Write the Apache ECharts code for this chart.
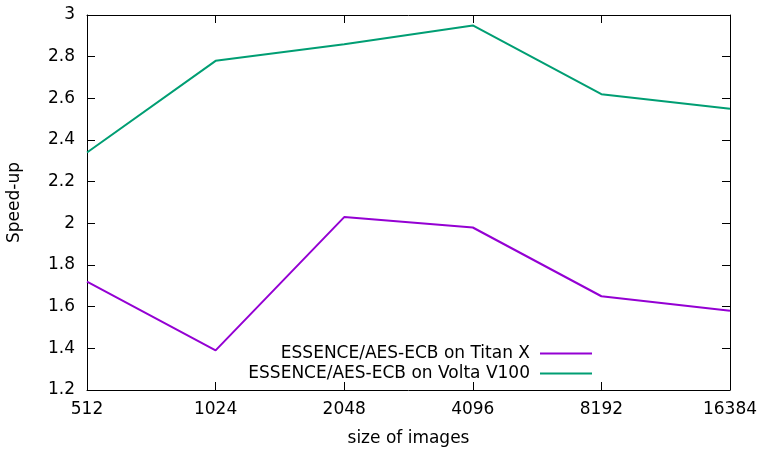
<!DOCTYPE html>
<html>
<head>
    <meta charset="utf-8">
    <title>Speed-up</title>
    <script src="https://cdn.jsdelivr.net/npm/echarts@6/dist/echarts.min.js"></script>
    <style>
        html, body { margin: 0; padding: 0; background: #fff; }
        #main { width: 762px; height: 453px; }
    </style>
</head>
<body>
    <div id="main"></div>
    <script>
        // data
        var sizes = ['512', '1024', '2048', '4096', '8192', '16384'];
        var titanX = [1.72, 1.39, 2.03, 1.98, 1.65, 1.58];
        var voltaV100 = [2.34, 2.78, 2.86, 2.95, 2.62, 2.55];
        var nameTitan = 'ESSENCE/AES-ECB on Titan X';
        var nameVolta = 'ESSENCE/AES-ECB on Volta V100';

        var font = 'DejaVu Sans';
        var fs = 17;
        var myChart = echarts.init(document.getElementById('main'));

        var tick = { show: true, inside: true, length: 8, lineStyle: { color: '#000', width: 1 } };
        var border = { show: true, onZero: false, lineStyle: { color: '#000', width: 1 } };

        function legendBox(name, color, top) {
            return {
                data: [{ name: name, icon: 'rect', itemStyle: { color: color } }],
                right: 165, top: top,
                align: 'right',
                itemWidth: 52, itemHeight: 2, itemGap: 0,
                textStyle: { fontFamily: font, fontSize: fs, color: '#000', padding: [0, 5, 0, 0] }
            };
        }

        var option = {
            animation: false,
            textStyle: { fontFamily: font, color: '#000' },
            grid: { left: 87, right: 32, top: 15, bottom: 63, outerBoundsMode: 'none' },
            legend: [
                legendBox(nameTitan, '#9400d3', 340),
                legendBox(nameVolta, '#009e73', 360)
            ],
            xAxis: [{
                type: 'category',
                data: sizes,
                boundaryGap: false,
                position: 'bottom',
                name: 'size of images',
                nameLocation: 'middle',
                nameGap: 40,
                nameTextStyle: { fontFamily: font, fontSize: fs, color: '#000' },
                axisLine: border,
                axisTick: tick,
                axisLabel: { fontFamily: font, fontSize: fs, color: '#000', margin: 11 },
                splitLine: { show: false }
            }, {
                type: 'category',
                data: sizes,
                boundaryGap: false,
                position: 'top',
                axisLine: border,
                axisTick: tick,
                axisLabel: { show: false },
                splitLine: { show: false }
            }],
            yAxis: [{
                type: 'value',
                min: 1.2, max: 3, interval: 0.2,
                name: 'Speed-up',
                nameLocation: 'middle',
                nameGap: 64,
                nameTextStyle: { fontFamily: font, fontSize: fs, color: '#000' },
                axisLine: border,
                axisTick: tick,
                axisLabel: {
                    fontFamily: font, fontSize: fs, color: '#000', margin: 12,
                    formatter: function (v) { return String(Math.round(v * 10) / 10); }
                },
                splitLine: { show: false }
            }, {
                type: 'value',
                min: 1.2, max: 3, interval: 0.2,
                position: 'right',
                axisLine: border,
                axisTick: tick,
                axisLabel: { show: false },
                splitLine: { show: false }
            }],
            series: [{
                name: nameTitan,
                type: 'line',
                data: titanX,
                symbol: 'none',
                lineStyle: { color: '#9400d3', width: 2 },
                itemStyle: { color: '#9400d3' }
            }, {
                name: nameVolta,
                type: 'line',
                data: voltaV100,
                symbol: 'none',
                lineStyle: { color: '#009e73', width: 2 },
                itemStyle: { color: '#009e73' }
            }]
        };
        myChart.setOption(option);
    </script>
</body>
</html>
